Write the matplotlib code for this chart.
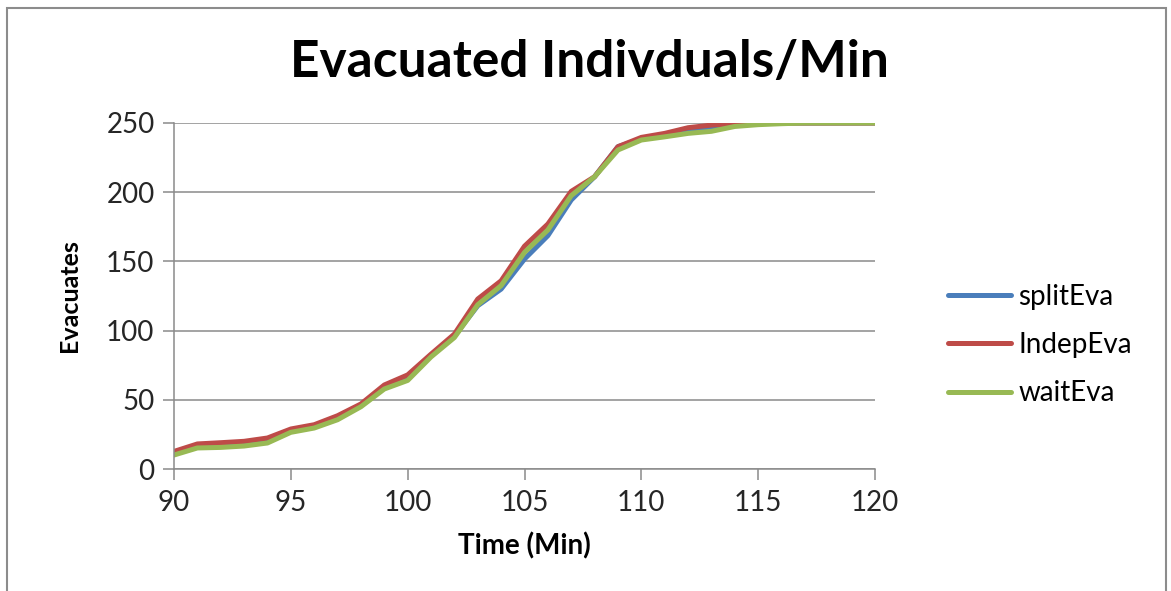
import matplotlib
matplotlib.use("Agg")
import matplotlib.pyplot as plt
from matplotlib.patches import Rectangle

minutes = list(range(90, 121))
split_eva = [11, 16.5, 17.5, 18.5, 20.5, 27.5, 31, 37, 46, 59, 66, 82, 96, 118, 130,
             151.7, 168.6, 194.4, 211.2, 232.9, 238.5, 241, 244.5, 247, 249, 250,
             250, 250, 250, 250, 250]
indep_eva = [12.7, 18.1, 19, 20, 22.4, 28.9, 32, 38.5, 47, 60.7, 68, 83, 97.5, 122.8, 136,
             161, 177, 200.6, 211.2, 232.9, 239.6, 242.5, 246.6, 248.5, 249.5, 250,
             250, 250, 250, 250, 250]
wait_eva = [10.1, 15.2, 15.6, 16.6, 18.8, 26.5, 29.6, 35.6, 45, 57.8, 64, 81, 95, 118.7, 132.5,
            156.5, 172.7, 197.5, 211.2, 230.5, 237.7, 240, 242.5, 244, 247.5, 248.8,
            249.5, 250, 250, 250, 250]
series_names = ["splitEva", "IndepEva", "waitEva"]
x_ticks = [90, 95, 100, 105, 110, 115, 120]
y_ticks = [0, 50, 100, 150, 200, 250]

FONT = ["Lato", "DejaVu Sans"]
plt.rcParams["font.family"] = FONT

fig = plt.figure(figsize=(11.71, 5.91), dpi=100)
fig.patches.append(Rectangle((7 / 1171, -0.05), (1166 - 7) / 1171, 1 - 8 / 591 + 0.05,
                             transform=fig.transFigure, fill=False,
                             edgecolor="#8c8c8c", linewidth=1.5))

ax = fig.add_axes([174 / 1171, 1 - 469 / 591, (875 - 174) / 1171, (469 - 123) / 591])

colors = ["#4A7EBB", "#BE4B48", "#98B954"]
for data, name, c in zip([split_eva, indep_eva, wait_eva], series_names, colors):
    ax.plot(minutes, data, color=c, linewidth=3.6, label=name, solid_capstyle="round")

ax.set_xlim(90, 120)
ax.set_ylim(0, 250)
ax.set_xticks(x_ticks)
ax.set_yticks(y_ticks)
ax.yaxis.grid(True, color="#8a8a8a", linewidth=1.1)
ax.set_axisbelow(True)
for s in ["top", "right"]:
    ax.spines[s].set_visible(False)
for s in ["left", "bottom"]:
    ax.spines[s].set_color("#8a8a8a")
    ax.spines[s].set_linewidth(1.1)
ax.tick_params(axis="both", colors="#8a8a8a", length=8, width=1.1, labelsize=20,
               labelcolor="#262626", direction="out")
ax.tick_params(axis="x", pad=7)
ax.tick_params(axis="y", pad=6)

ax.set_xlabel("Time (Min)", fontsize=20, fontweight="bold", labelpad=12)
ax.set_ylabel("Evacuates", fontsize=18, fontweight="bold", labelpad=18)

fig.text(589 / 1171, 1 - 62 / 591, "Evacuated Indivduals/Min", ha="center", va="center",
         fontsize=37, fontweight="bold")

leg = ax.legend(loc="center left", bbox_to_anchor=(942 / 1171, 1 - 345 / 591),
                bbox_transform=fig.transFigure, frameon=False, fontsize=20,
                handlelength=2.3, handletextpad=0.25, labelspacing=0.8,
                borderaxespad=0, borderpad=0.2)
for line in leg.get_lines():
    line.set_linewidth(3.6)

fig.savefig("out.png", dpi=100)
